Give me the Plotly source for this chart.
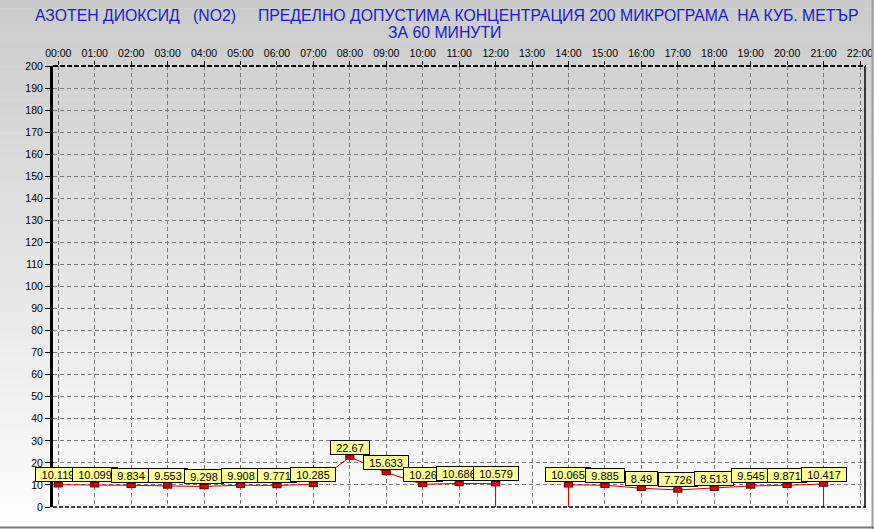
import plotly.graph_objects as go

# ---------------- data ----------------
hours = [0, 1, 2, 3, 4, 5, 6, 7, 8, 9, 10, 11, 12, 13, 14, 15, 16, 17, 18, 19, 20, 21, 22]
hour_labels = ["00:00", "01:00", "02:00", "03:00", "04:00", "05:00", "06:00", "07:00",
               "08:00", "09:00", "10:00", "11:00", "12:00", "13:00", "14:00", "15:00",
               "16:00", "17:00", "18:00", "19:00", "20:00", "21:00", "22:00"]
no2_values = [10.119, 10.099, 9.834, 9.553, 9.298, 9.908, 9.771, 10.285, 22.67, 15.633,
              10.26, 10.686, 10.579, None, 10.065, 9.885, 8.49, 7.726, 8.513, 9.545,
              9.871, 10.417, None]
value_labels = ["10.119", "10.099", "9.834", "9.553", "9.298", "9.908", "9.771", "10.285",
                "22.67", "15.633", "10.26", "10.686", "10.579", None, "10.065", "9.885",
                "8.49", "7.726", "8.513", "9.545", "9.871", "10.417", None]
y_ticks = [0, 10, 20, 30, 40, 50, 60, 70, 80, 90, 100, 110, 120, 130, 140, 150, 160,
           170, 180, 190, 200]
title_line1 = "АЗОТЕН ДИОКСИД   (NO2)     ПРЕДЕЛНО ДОПУСТИМА КОНЦЕНТРАЦИЯ 200 МИКРОГРАМА  НА КУБ. МЕТЪР"
title_line2 = "ЗА 60 МИНУТИ"

# ---------------- layout geometry ----------------
W, H = 874, 529
L, R, T, B = 53, 866, 66, 507
FONT = "Liberation Sans, Arial, sans-serif"


def pxx(px):
    return (px - L) / (R - L)


def pxy(py):
    return (B - py) / (B - T)


# line path: connect points, drop to zero next to missing values
line_x, line_y = [], []
n = len(hours)
for i in range(n):
    v = no2_values[i]
    if v is None:
        if line_x and line_x[-1] is not None:
            line_x.append(None)
            line_y.append(None)
        continue
    if i > 0 and no2_values[i - 1] is None:
        line_x.append(hours[i]); line_y.append(0)
    line_x.append(hours[i]); line_y.append(v)
    if i < n - 1 and no2_values[i + 1] is None:
        line_x.append(hours[i]); line_y.append(0)

pts_x = [h for h, v in zip(hours, no2_values) if v is not None]
pts_y = [v for v in no2_values if v is not None]

fig = go.Figure()
fig.add_trace(go.Scatter(x=line_x, y=line_y, mode="lines",
                         line=dict(color="#cc0000", width=1), connectgaps=False,
                         hoverinfo="skip", showlegend=False))
fig.add_trace(go.Scatter(x=pts_x, y=pts_y, mode="markers",
                         marker=dict(symbol="line-ew", size=6.6,
                                     line=dict(color="#600000", width=5.5)),
                         hoverinfo="skip", showlegend=False))
fig.add_trace(go.Scatter(x=pts_x, y=pts_y, mode="markers",
                         marker=dict(symbol="line-ew", size=5.2,
                                     line=dict(color="#dd0000", width=3.5)),
                         hoverinfo="skip", showlegend=False))

# value label boxes
char_w = {".": 0.278}
LBL_FS = 11
for h, v, lab in zip(hours, no2_values, value_labels):
    if v is None:
        continue
    tw = sum(char_w.get(c, 0.556) for c in lab) * LBL_FS
    fig.add_annotation(x=h, y=v, text=lab, showarrow=False, xanchor="center",
                       yanchor="bottom", yshift=2.5, bgcolor="#ffff99",
                       bordercolor="#000000", borderwidth=1, borderpad=1,
                       width=round(tw + 8), height=11,
                       font=dict(family=FONT, size=LBL_FS, color="#000000"))

# title lines
fig.add_annotation(xref="paper", yref="paper", x=pxx(447), y=pxy(15),
                   text=title_line1.replace(" ", "\u00a0"), showarrow=False,
                   xanchor="center", yanchor="middle",
                   font=dict(family=FONT, size=15.8, color="#1a1ac8"))
fig.add_annotation(xref="paper", yref="paper", x=pxx(444), y=pxy(33),
                   text=title_line2.replace(" ", "\u00a0"), showarrow=False,
                   xanchor="center", yanchor="middle",
                   font=dict(family=FONT, size=15.8, color="#1a1ac8"))

shapes = []
# background gradient (grey top -> white bottom)
NB = 64
for k in range(NB):
    y0 = H * k / NB
    y1 = H * (k + 1) / NB + 0.5
    c = round(203 + (254 - 203) * (k + 0.5) / NB)
    shapes.append(dict(type="rect", xref="paper", yref="paper", layer="below",
                       x0=pxx(0), x1=pxx(W), y0=pxy(y1), y1=pxy(y0),
                       fillcolor=f"rgb({c},{c},{c})", line=dict(width=0)))
# frame edges of the chart window
shapes.append(dict(type="line", xref="paper", yref="paper", layer="above",
                   x0=pxx(872.5), x1=pxx(872.5), y0=pxy(529), y1=pxy(0),
                   line=dict(color="#a0a0a0", width=2)))
shapes.append(dict(type="line", xref="paper", yref="paper", layer="above",
                   x0=pxx(0), x1=pxx(874), y0=pxy(527.5), y1=pxy(527.5),
                   line=dict(color="#7a7a7a", width=2)))
# plot borders
shapes.append(dict(type="line", xref="paper", yref="paper", layer="above",
                   x0=0, x1=1, y0=1, y1=1,
                   line=dict(color="#000000", width=2, dash="5px,2px")))
shapes.append(dict(type="line", xref="paper", yref="paper", layer="above",
                   x0=0, x1=1, y0=0, y1=0,
                   line=dict(color="#000000", width=1.5, dash="4px,2px")))
shapes.append(dict(type="line", xref="paper", yref="paper", layer="above",
                   x0=pxx(865), x1=pxx(865), y0=0, y1=1,
                   line=dict(color="#000000", width=1.5)))

x_lo = -(58.3 - L) / ((860 - 58.3) / 22)
x_hi = 22 + (R - 860) / ((860 - 58.3) / 22)

fig.update_layout(
    width=W, height=H,
    margin=dict(l=L, r=W - R, t=T, b=H - B, pad=0),
    paper_bgcolor="#ffffff", plot_bgcolor="rgba(0,0,0,0)",
    shapes=shapes, showlegend=False, hovermode=False,
    xaxis=dict(side="top", range=[x_lo, x_hi], tickmode="array", tickvals=hours,
               ticktext=hour_labels, showgrid=True, gridcolor="#7a7a7a",
               griddash="4px,3px", gridwidth=1, zeroline=False,
               ticks="outside", ticklen=4, tickcolor="#000000", tickwidth=1,
               showline=False, automargin=False,
               tickfont=dict(family=FONT, size=10.5, color="#000000")),
    yaxis=dict(range=[0, 200], tickmode="array", tickvals=y_ticks,
               ticktext=[str(t) for t in y_ticks], showgrid=True,
               gridcolor="#7a7a7a", griddash="4px,3px", gridwidth=1, zeroline=False,
               ticks="outside", ticklen=5, tickcolor="#000000", tickwidth=1,
               showline=True, linecolor="#000000", linewidth=3, automargin=False,
               tickfont=dict(family=FONT, size=10.5, color="#000000")),
)

fig.write_html("out.html", config={"displayModeBar": False, "staticPlot": True},
               post_script="document.body.style.margin='0';document.body.style.padding='0';")
